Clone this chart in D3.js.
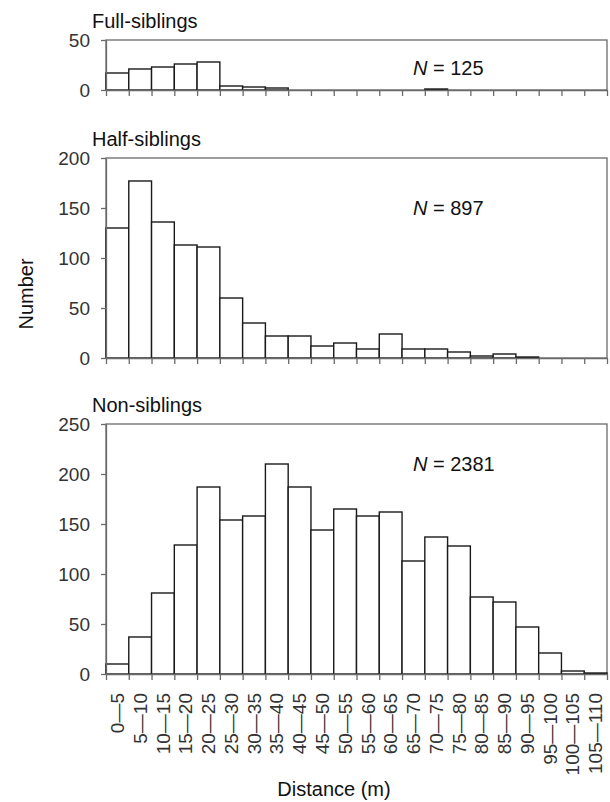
<!DOCTYPE html>
<html><head><meta charset="utf-8">
<script src="https://cdn.jsdelivr.net/npm/d3@7"></script>
<style>body{margin:0;background:#fff}svg{display:block}text{font-family:"Liberation Sans",Arial,Helvetica,sans-serif}</style>
</head><body><div id="chart"></div>
<script>
const bins = ["0\u20145","5\u201410","10\u201415","15\u201420","20\u201425","25\u201430","30\u201435","35\u201440","40\u201445","45\u201450","50\u201455","55\u201460","60\u201465","65\u201470","70\u201475","75\u201480","80\u201485","85\u201490","90\u201495","95\u2014100","100\u2014105","105\u2014110"];
const fullSiblings = [17,21,23,26,28,4,3,2,0,0,0,0,0,0,1,0,0,0,0,0,0,0];
const halfSiblings = [130,177,136,113,111,60,35,22,22,12,15,9,24,9,9,6,2,4,1,0,0,0];
const nonSiblings = [10,37,81,129,187,154,158,210,187,144,165,158,162,113,137,128,77,72,47,21,3,1];
const panelTitles = ["Full-siblings","Half-siblings","Non-siblings"];
const sampleSizes = ["125","897","2381"];
const yTicksFull = [0,50];
const yTicksHalf = [0,50,100,150,200];
const yTicksNon = [0,50,100,150,200,250];
const xTitle = "Distance (m)";
const yTitle = "Number";

const W = 610, H = 802;
const L = 106, R = 607;
const FS = 19, TS = 20;
const svg = d3.select("#chart").append("svg").attr("width", W).attr("height", H);
const x = d3.scaleBand().domain(bins).range([L, R]).padding(0);
const xEdge = d3.scaleLinear().domain([0, bins.length]).range([L, R]);

const panels = [
  {data: fullSiblings, ticks: yTicksFull, top: 40, bottom: 90, title: panelTitles[0], n: sampleSizes[0], nY: 75},
  {data: halfSiblings, ticks: yTicksHalf, top: 158, bottom: 358, title: panelTitles[1], n: sampleSizes[1], nY: 215},
  {data: nonSiblings, ticks: yTicksNon, top: 424, bottom: 674, title: panelTitles[2], n: sampleSizes[2], nY: 471}
];
const axisCol = "#6a6a6a";

panels.forEach((p, i) => {
  const y = d3.scaleLinear().domain([0, d3.max(p.ticks)]).range([p.bottom, p.top]);
  const g = svg.append("g");
  g.append("rect").attr("x", L).attr("y", p.top).attr("width", R - L).attr("height", p.bottom - p.top)
    .attr("fill", "none").attr("stroke", axisCol).attr("stroke-width", 1.3);
  g.selectAll("rect.bar").data(p.data.map((v, j) => ({v, b: bins[j]})).filter(d => d.v > 0))
    .join("rect").attr("class", "bar")
    .attr("x", d => x(d.b)).attr("width", x.bandwidth())
    .attr("y", d => y(d.v)).attr("height", d => y(0) - y(d.v))
    .attr("fill", "#fff").attr("stroke", "#1a1a1a").attr("stroke-width", 1.4);
  const xa = g.append("g").attr("transform", `translate(0,${p.bottom})`)
    .call(d3.axisBottom(xEdge).tickValues(d3.range(0, bins.length + 1)).tickSize(6).tickSizeOuter(0).tickFormat(""));
  xa.select(".domain").attr("stroke", axisCol).attr("stroke-width", 1.3);
  xa.selectAll(".tick line").attr("stroke", axisCol).attr("stroke-width", 1.3);
  const ya = g.append("g").attr("transform", `translate(${L},0)`)
    .call(d3.axisLeft(y).tickValues(p.ticks).tickSize(5).tickSizeOuter(0).tickPadding(11));
  ya.select(".domain").attr("stroke", axisCol).attr("stroke-width", 1.3);
  ya.selectAll(".tick line").attr("stroke", axisCol).attr("stroke-width", 1.3);
  ya.selectAll(".tick text").attr("font-size", FS).attr("fill", "#333").style("font-family", '"Liberation Sans",Arial,sans-serif');
  g.append("text").attr("x", 92).attr("y", p.top - 12).attr("font-size", TS).attr("fill", "#111").text(p.title);
  const t = g.append("text").attr("x", 413).attr("y", p.nY).attr("font-size", TS).attr("fill", "#111");
  t.append("tspan").attr("font-style", "italic").text("N");
  t.append("tspan").text(" = " + p.n);
});

svg.append("g").selectAll("text").data(bins).join("text")
  .attr("transform", d => `translate(${x(d) + x.bandwidth() / 2},693) rotate(-90)`)
  .attr("text-anchor", "end").attr("dy", "0.35em").attr("font-size", FS).attr("fill", "#333")
  .text(d => d);

svg.append("text").attr("x", 334).attr("y", 796).attr("text-anchor", "middle").attr("font-size", TS).attr("fill", "#111").text(xTitle);
svg.append("text").attr("transform", "translate(33,294) rotate(-90)").attr("text-anchor", "middle").attr("font-size", TS).attr("fill", "#111").text(yTitle);
</script></body></html>
